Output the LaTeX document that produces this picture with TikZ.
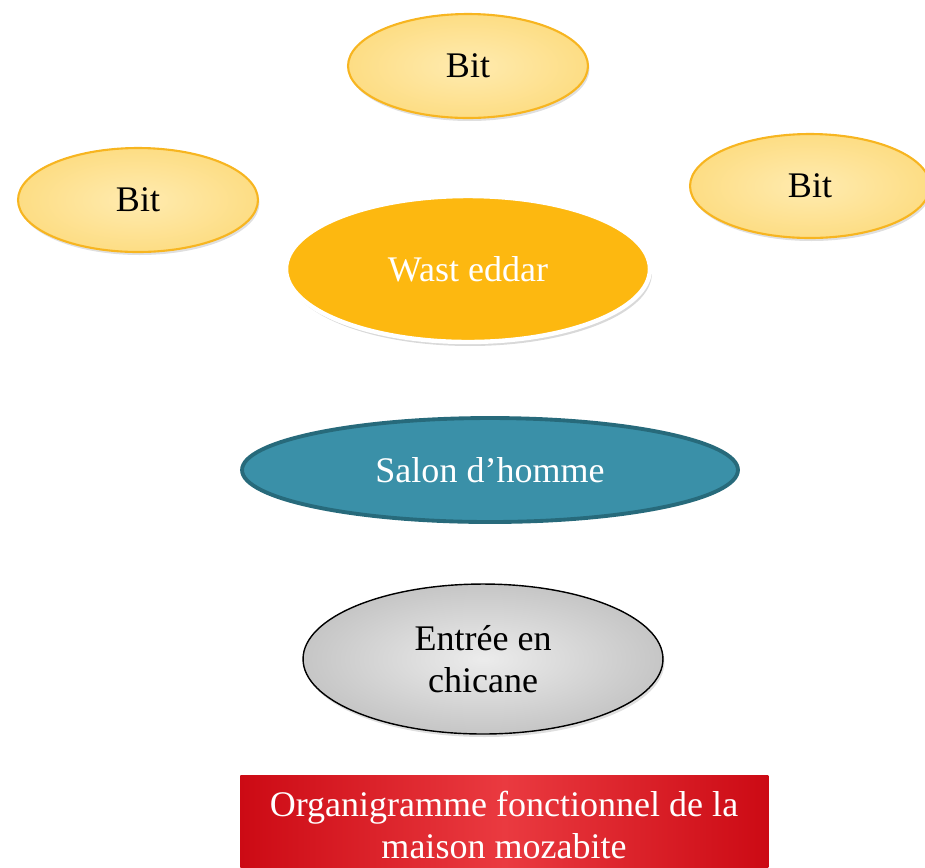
\documentclass[tikz,border=0pt]{standalone}
\usepackage{fontspec}
\setmainfont{Liberation Serif}
\usetikzlibrary{shapes.geometric,shadows}

\definecolor{bitedge}{HTML}{F7B520}
\definecolor{bitin}{HTML}{FFEBB0}
\definecolor{bitout}{HTML}{FDDD84}
\definecolor{wastfill}{HTML}{FDB810}
\definecolor{salonfill}{HTML}{3A90A8}
\definecolor{salonedge}{HTML}{276A7B}
\definecolor{redmid}{HTML}{EA3A40}
\definecolor{redside}{HTML}{CC0A14}

\tikzset{
	every node/.style={font=\fontsize{20.5}{23.6}\selectfont},
	bit/.style={ellipse, draw=bitedge, line width=1.2pt, inner color=bitin, outer color=bitout,
		minimum width=4.8cm, minimum height=2.08cm, inner sep=0pt,
		drop shadow={opacity=0.25, shadow xshift=0.03cm, shadow yshift=-0.06cm}},
	wast/.style={ellipse, draw=white, line width=2.5pt, fill=wastfill, text=white,
		minimum width=7.28cm, minimum height=2.92cm, inner sep=0pt,
		drop shadow={opacity=0.3, shadow xshift=0.04cm, shadow yshift=-0.08cm}},
	salon/.style={ellipse, draw=salonedge, line width=2.2pt, fill=salonfill, text=white,
		minimum width=9.92cm, minimum height=2.08cm, inner sep=0pt},
	chicane/.style={ellipse, draw=black, line width=0.8pt, inner color=gray!15, outer color=gray!45,
		minimum width=7.2cm, minimum height=3cm, inner sep=0pt, align=center,
		drop shadow={opacity=0.25, shadow xshift=0.03cm, shadow yshift=-0.06cm}},
	titlebox/.style={rectangle, left color=redside, right color=redside, middle color=redmid,
		minimum width=10.56cm, minimum height=2.1cm, inner sep=0pt}
}

\begin{document}
\begin{tikzpicture}[x=0.02cm, y=-0.02cm]
	
		\useasboundingbox (0,0) rectangle (925,867);
		
		% draw the three bits
		\foreach \name/\px/\py in {bittop/468/66, bitleft/138/200, bitright/810/186}
		{
			\node[bit] (\name) at (\px, \py) {Bit};
		}
		
		% draw the court
		\node[wast] (wasteddar) at (468, 269) {Wast eddar};
		
		% draw salon and entrance
		\node[salon] (salon) at (490, 470) {Salon d’homme};
		\node[chicane] (entree) at (483, 659) {Entrée en\\chicane};
		
		% draw title (cut by the page)
		\node[titlebox, anchor=north west] (title) at (240, 775) {};
		\node[align=center, text=white] (titletext) at (504, 825) {Organigramme fonctionnel de la\\maison mozabite};
		
	\end{tikzpicture}
\end{document}
